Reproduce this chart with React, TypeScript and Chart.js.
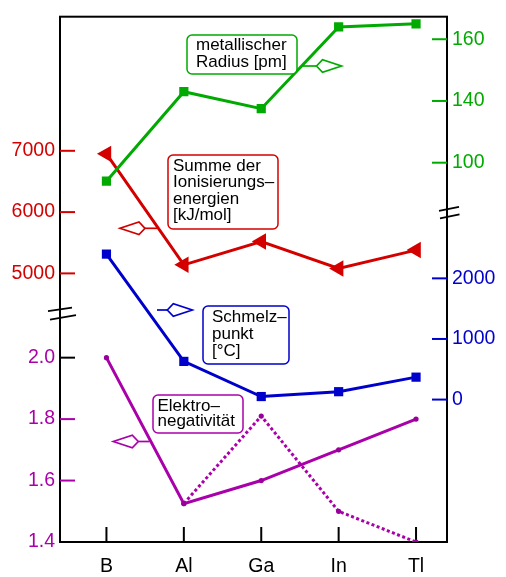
import React, { useEffect, useRef } from "react";
import { Chart, registerables, LinearScale } from "chart.js";

Chart.register(...registerables);

// ---------- data ----------
const categories = ["B", "Al", "Ga", "In", "Tl"];
const metallicRadius = [88, 143, 135, 164, 165];
const ionizationSum = [6950, 5140, 5520, 5080, 5380];
const meltingPoint = [2400, 630, 50, 130, 370];
const electronegativity = [2.0, 1.525, 1.6, 1.7, 1.8];
const electronegativityAlt = [null, 1.525, 1.81, 1.5, 1.4];

const radiusTicks = [100, 140, 160];
const ionizationTicks = [5000, 6000, 7000];
const meltingTicks = [0, 1000, 2000];
const enTicks = [1.4, 1.6, 1.8, 2.0];

// ---------- styles ----------
const GREEN = "#00aa00";
const RED = "#d40000";
const BLUE = "#0000cc";
const PURPLE = "#aa00aa";
const FAMILY = "'Liberation Sans', Arial, Helvetica, sans-serif";

// radius axis: below 140 the axis is compressed (100..140 takes the space of 20 units)
function compressRadius(v: number) {
  return v >= 140 ? v : 140 - (140 - v) / 2;
}
class BrokenLinearScale extends LinearScale {
  static id = "brokenLinear";
  static defaults = LinearScale.defaults;
  getPixelForValue(value: any) {
    if (value === null || value === undefined) return NaN;
    return super.getPixelForValue(compressRadius(value));
  }
}
Chart.register(BrokenLinearScale as any);

const annotations = [
  { color: GREEN, box: [187, 35, 110, 39], textX: 196, baseline: 50, lh: 16.7, lines: ["metallischer", "Radius [pm]"] },
  { color: RED, box: [168, 155, 110, 74], textX: 173, baseline: 170.5, lh: 16.6, lines: ["Summe der", "Ionisierungs–", "energien", "[kJ/mol]"] },
  { color: BLUE, box: [203, 306, 86, 58], textX: 212, baseline: 321.5, lh: 17.3, lines: ["Schmelz–", "punkt", "[°C]"] },
  { color: PURPLE, box: [153, 395, 90, 38], textX: 157.5, baseline: 410.5, lh: 15.5, lines: ["Elektro–", "negativität"] },
];
const pointers = [
  { color: GREEN, x0: 303, x1: 316.5, y: 66, dir: 1 },
  { color: RED, x0: 157, x1: 145, y: 228.3, dir: -1 },
  { color: BLUE, x0: 157, x1: 167.3, y: 310, dir: 1 },
  { color: PURPLE, x0: 149.5, x1: 138.3, y: 441.5, dir: -1 },
];

const tickMarkColors: Record<string, (v: number) => string | null> = {
  yIE: () => RED,
  yEN: (v) => (v === 1.4 ? null : v === 2.0 ? "#000" : PURPLE),
  yMP: () => BLUE,
  yRad: () => GREEN,
};

const decorations = {
  id: "decorations",
  beforeDatasetsDraw(chart: any) {
    const { ctx, chartArea: a, scales } = chart;
    ctx.save();
    ctx.strokeStyle = "#000";
    ctx.lineWidth = 2;
    ctx.strokeRect(a.left, a.top, a.right - a.left, a.bottom - a.top);

    // y tick marks (inside)
    for (const id of Object.keys(tickMarkColors)) {
      const s = scales[id];
      if (!s) continue;
      s.ticks.forEach((t: any, i: number) => {
        const c = tickMarkColors[id](t.value);
        if (!c) return;
        const y = s.getPixelForTick(i);
        ctx.strokeStyle = c;
        ctx.lineWidth = 2;
        ctx.beginPath();
        if (s.position === "left") {
          ctx.moveTo(a.left, y);
          ctx.lineTo(a.left + 15, y);
        } else {
          ctx.moveTo(a.right, y);
          ctx.lineTo(a.right - 15, y);
        }
        ctx.stroke();
      });
    }
    // x tick marks (inside)
    const xs = scales.x;
    xs.ticks.forEach((t: any, i: number) => {
      const x = xs.getPixelForTick(i);
      ctx.strokeStyle = "#000";
      ctx.lineWidth = 2;
      ctx.beginPath();
      ctx.moveTo(x, a.bottom);
      ctx.lineTo(x, a.bottom - 15);
      ctx.stroke();
    });

    // axis breaks
    ctx.strokeStyle = "#000";
    ctx.lineWidth = 1.8;
    const lb = scales.yEN.top;
    ctx.beginPath();
    ctx.moveTo(a.left - 12, lb - 2);
    ctx.lineTo(a.left + 12, lb - 5.5);
    ctx.moveTo(a.left - 10, lb + 6.5);
    ctx.lineTo(a.left + 16, lb + 2);
    ctx.stroke();
    const rb = scales.yMP.top;
    ctx.beginPath();
    ctx.moveTo(a.right - 8, rb - 3);
    ctx.lineTo(a.right + 12, rb - 7);
    ctx.moveTo(a.right - 7, rb + 4.5);
    ctx.lineTo(a.right + 12.5, rb + 0.5);
    ctx.stroke();
    ctx.restore();
  },
  afterDatasetsDraw(chart: any) {
    const { ctx } = chart;
    ctx.save();
    for (const an of annotations) {
      const [x, y, w, h] = an.box;
      ctx.beginPath();
      if ((ctx as any).roundRect) (ctx as any).roundRect(x, y, w, h, 5);
      else ctx.rect(x, y, w, h);
      ctx.fillStyle = "#fff";
      ctx.fill();
      ctx.strokeStyle = an.color;
      ctx.lineWidth = 1.5;
      ctx.stroke();
      ctx.fillStyle = "#000";
      ctx.font = `17px ${FAMILY}`;
      ctx.textAlign = "left";
      ctx.textBaseline = "alphabetic";
      an.lines.forEach((ln, i) => ctx.fillText(ln, an.textX, an.baseline + i * an.lh));
    }
    for (const p of pointers) {
      ctx.strokeStyle = p.color;
      ctx.lineWidth = 1.7;
      ctx.lineJoin = "miter";
      ctx.beginPath();
      ctx.moveTo(p.x0, p.y);
      ctx.lineTo(p.x1, p.y);
      ctx.stroke();
      ctx.beginPath();
      ctx.moveTo(p.x1, p.y);
      ctx.lineTo(p.x1 + p.dir * 6, p.y - 6.3);
      ctx.lineTo(p.x1 + p.dir * 25, p.y);
      ctx.lineTo(p.x1 + p.dir * 6, p.y + 6.3);
      ctx.closePath();
      ctx.stroke();
    }
    ctx.restore();
  },
};

function pts(arr: (number | null)[]) {
  return arr.map((y, i) => ({ x: i, y }));
}

function yAxis(color: string, ticks: number[], extra: any, fmt?: (v: number) => string) {
  return {
    type: "linear",
    bounds: "data",
    grid: { display: false, drawTicks: false },
    border: { display: false },
    ticks: {
      color,
      font: { family: FAMILY, size: 19.5 },
      padding: 5,
      autoSkip: false,
      callback: (v: any) => (fmt ? fmt(Number(v)) : String(v)),
    },
    afterBuildTicks: (s: any) => {
      s.ticks = ticks.map((v) => ({ value: v }));
    },
    ...extra,
  };
}

export default function App() {
  const ref = useRef<HTMLCanvasElement>(null);
  useEffect(() => {
    if (!ref.current) return;
    const chart = new Chart(ref.current, {
      type: "line",
      data: {
        datasets: [
          {
            label: "metallischer Radius [pm]",
            data: pts(metallicRadius),
            yAxisID: "yRad",
            borderColor: GREEN,
            backgroundColor: GREEN,
            borderWidth: 3,
            pointStyle: "rect",
            pointRadius: 6.5,
            pointBorderWidth: 0,
          },
          {
            label: "Summe der Ionisierungsenergien [kJ/mol]",
            data: pts(ionizationSum),
            yAxisID: "yIE",
            borderColor: RED,
            backgroundColor: RED,
            borderWidth: 3,
            pointStyle: "triangle",
            pointRotation: -90,
            pointRadius: 9.5,
            pointBorderWidth: 0,
          },
          {
            label: "Schmelzpunkt [°C]",
            data: pts(meltingPoint),
            yAxisID: "yMP",
            borderColor: BLUE,
            backgroundColor: BLUE,
            borderWidth: 3,
            pointStyle: "rect",
            pointRadius: 6.5,
            pointBorderWidth: 0,
          },
          {
            label: "Elektronegativität",
            data: pts(electronegativity),
            yAxisID: "yEN",
            borderColor: PURPLE,
            backgroundColor: "#990099",
            borderWidth: 3,
            pointStyle: "circle",
            pointRadius: 2.6,
            pointBorderWidth: 0,
          },
          {
            label: "Elektronegativität (2)",
            data: pts(electronegativityAlt),
            yAxisID: "yEN",
            borderColor: PURPLE,
            backgroundColor: "#990099",
            borderWidth: 3,
            borderDash: [3, 2.5],
            borderCapStyle: "butt",
            pointStyle: "circle",
            pointRadius: 2.6,
            pointBorderWidth: 0,
          },
        ],
      } as any,
      options: {
        responsive: false,
        maintainAspectRatio: false,
        animation: false,
        devicePixelRatio: 1,
        layout: { padding: { top: 12, left: 0, right: 0, bottom: 0 } },
        plugins: { legend: { display: false }, tooltip: { enabled: false } },
        events: [],
        scales: {
          x: {
            type: "linear",
            position: "bottom",
            min: -0.6,
            max: 4.4,
            bounds: "data",
            grid: { display: false, drawTicks: false },
            border: { display: false },
            ticks: {
              color: "#000",
              font: { family: FAMILY, size: 19.5 },
              padding: 13,
              autoSkip: false,
              maxRotation: 0,
              callback: (v: any) => categories[Number(v)] ?? "",
            },
            afterBuildTicks: (s: any) => {
              s.ticks = categories.map((_, i) => ({ value: i }));
            },
            afterFit: (s: any) => {
              s.height = 35;
            },
          },
          yIE: yAxis(RED, ionizationTicks, {
            position: "left",
            stack: "left",
            stackWeight: 299,
            weight: 1,
            min: 4353,
            max: 9188,
            afterFit: (s: any) => {
              s.width = 60;
            },
          }),
          yEN: yAxis(
            PURPLE,
            enTicks,
            {
              position: "left",
              stack: "left",
              stackWeight: 231,
              weight: 0,
              min: 1.4,
              max: 2.1452,
              afterFit: (s: any) => {
                s.width = 60;
              },
            },
            (v) => v.toFixed(1)
          ),
          yRad: {
            ...yAxis(GREEN, radiusTicks, {
              position: "right",
              stack: "right",
              stackWeight: 199,
              weight: 0,
              min: 103.4,
              max: 167.3,
              afterFit: (s: any) => {
                s.width = 59;
              },
            }),
            type: "brokenLinear",
          },
          yMP: yAxis(BLUE, meltingTicks, {
            position: "right",
            stack: "right",
            stackWeight: 331,
            weight: 1,
            min: -2350,
            max: 3063,
            afterFit: (s: any) => {
              s.width = 59;
            },
          }),
        } as any,
      },
      plugins: [decorations],
    } as any);
    return () => chart.destroy();
  }, []);

  return (
    <div style={{ position: "absolute", left: 0, top: 0, width: 506, height: 577, background: "#fff" }}>
      <canvas ref={ref} width={506} height={577} style={{ display: "block", width: 506, height: 577 }} />
    </div>
  );
}
